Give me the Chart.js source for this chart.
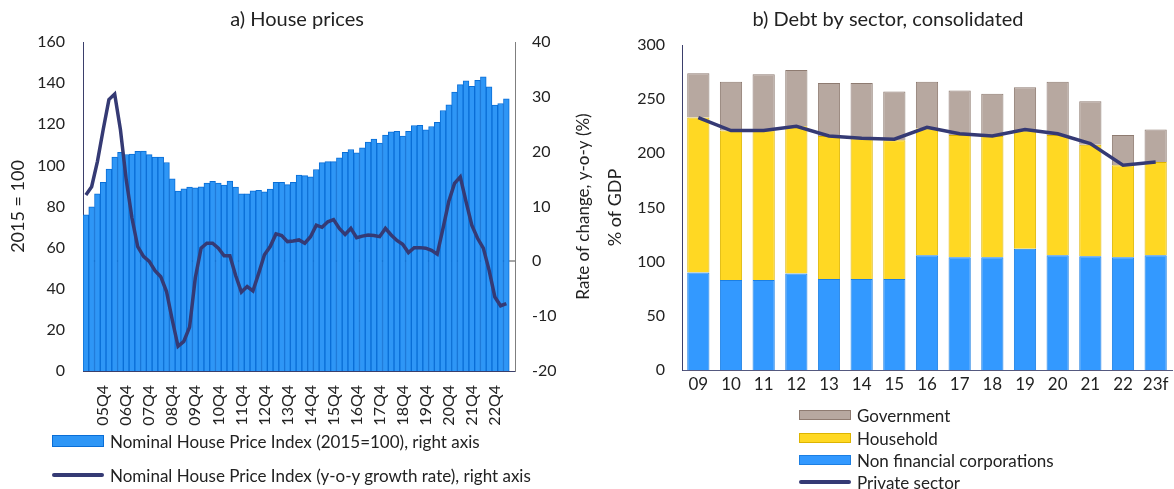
<!DOCTYPE html>
<html>
<head>
<meta charset="utf-8">
<script src="https://cdn.jsdelivr.net/npm/chart.js@4.4.1/dist/chart.umd.min.js"></script>
<style>
body{ margin:0; background:#fff; width:1174px; height:489px; overflow:hidden; position:relative; font-family:Lato, sans-serif; color:#222; }
#housePrices{ position:absolute; left:0; top:0; }
#debtSector{ position:absolute; left:594px; top:0; }
.leg{ position:absolute; height:20px; display:flex; align-items:center; font-size:17px; white-space:nowrap; }
.sw{ box-sizing:border-box; width:52px; margin-right:6px; }
</style>
</head>
<body>
<canvas id="housePrices" width="594" height="489"></canvas>
<canvas id="debtSector" width="580" height="489"></canvas>
<div id="legends"></div>
<script>
//panel a) data, quarterly 05Q1 - 23Q3 (last quarter empty)
var quarters = [
    "05Q1","05Q2","05Q3","05Q4","06Q1","06Q2","06Q3","06Q4","07Q1","07Q2","07Q3","07Q4",
    "08Q1","08Q2","08Q3","08Q4","09Q1","09Q2","09Q3","09Q4","10Q1","10Q2","10Q3","10Q4",
    "11Q1","11Q2","11Q3","11Q4","12Q1","12Q2","12Q3","12Q4","13Q1","13Q2","13Q3","13Q4",
    "14Q1","14Q2","14Q3","14Q4","15Q1","15Q2","15Q3","15Q4","16Q1","16Q2","16Q3","16Q4",
    "17Q1","17Q2","17Q3","17Q4","18Q1","18Q2","18Q3","18Q4","19Q1","19Q2","19Q3","19Q4",
    "20Q1","20Q2","20Q3","20Q4","21Q1","21Q2","21Q3","21Q4","22Q1","22Q2","22Q3","22Q4",
    "23Q1","23Q2","23Q3"
];
var priceIndex = [
    76.0, 79.9, 86.2, 91.7, 98.2, 104.0, 106.3, 105.3, 105.5, 106.8,
    106.9, 105.2, 104.0, 104.0, 101.4, 93.5, 87.5, 88.6, 89.4, 89.1,
    89.6, 91.4, 92.3, 91.4, 90.4, 92.4, 89.5, 86.2, 86.2, 87.6,
    87.9, 87.1, 88.5, 91.8, 91.8, 90.6, 91.8, 95.3, 95.0, 94.4,
    98.0, 101.3, 101.8, 101.8, 103.7, 106.4, 107.7, 106.1, 108.5, 111.3,
    112.8, 110.8, 114.7, 116.3, 116.6, 114.3, 116.6, 119.4, 119.5, 117.3,
    118.9, 120.9, 126.7, 129.5, 135.6, 139.3, 141.1, 138.5, 141.3, 143.1,
    138.2, 129.3, 130.1, 132.4
];
var priceGrowth = [
    12.1, 13.6, 18.2, 24.0, 29.5, 30.5, 24.0, 14.9, 7.9, 2.7,
    0.9, 0.0, -1.7, -2.8, -5.5, -10.7, -15.5, -14.6, -12.0, -3.0,
    2.4, 3.3, 3.3, 2.4, 1.0, 1.0, -2.6, -5.6, -4.6, -5.4,
    -2.2, 1.2, 2.7, 5.0, 4.7, 3.6, 3.7, 3.9, 3.3, 4.5,
    6.6, 6.2, 7.2, 7.6, 6.0, 4.9, 6.0, 4.3, 4.6, 4.8,
    4.7, 4.5, 6.0, 4.8, 3.8, 3.1, 1.6, 2.5, 2.5, 2.4,
    2.0, 1.3, 6.0, 10.9, 14.2, 15.4, 10.9, 6.6, 4.2, 2.4,
    -1.6, -6.5, -8.1, -7.7
];

//panel b) data, % of GDP
var years = ["09","10","11","12","13","14","15","16","17","18","19","20","21","22","23f"];
var nfcDebt = [90, 83, 83, 89, 84, 84, 84, 106, 104, 104, 112, 106, 105, 104, 106];
var householdDebt = [143, 138, 138, 136, 132, 130, 128, 117, 113, 112, 109, 111, 103, 85, 86];
var governmentDebt = [41, 45, 52, 52, 49, 51, 45, 43, 41, 39, 40, 49, 40, 28, 30];
var privateSector = [233, 221, 221, 225, 216, 214, 213, 224, 218, 216, 222, 218, 209, 189, 192];

var NAVY = "#353A74", TXT = "#222";
Chart.defaults.font.family = "Lato";
Chart.defaults.color = TXT;

//fix the axis box sizes (chart.js reserves tick padding twice)
function fixWidth( w ){ return function( s ){ s.width = w; }; }
function fixHeight( h ){ return function( s ){ s.height = h; s.paddingLeft = 0; s.paddingRight = 0; }; }

//draws the right axis title reading bottom to top
var rateTitle = {
    id: "rateTitle",
    afterDraw: function( chart ){
        var ctx = chart.ctx, a = chart.chartArea;
        ctx.save();
        ctx.translate( chart.width - 10, (a.top + a.bottom) / 2 );
        ctx.rotate( -Math.PI / 2 );
        ctx.font = "17px Lato";
        ctx.fillStyle = TXT;
        ctx.textAlign = "center";
        ctx.textBaseline = "middle";
        ctx.fillText( "Rate of change, y-o-y (%)", 0, 0 );
        ctx.restore();
    }
};

var priceBars = {
    type: "bar", label: "Nominal House Price Index (2015=100), right axis",
    data: priceIndex, yAxisID: "y", order: 1,
    backgroundColor: "#2E96F6", borderColor: "#0A6ED6", borderWidth: 1,
    barPercentage: 1, categoryPercentage: 1
};
var growthLine = {
    type: "line", label: "Nominal House Price Index (y-o-y growth rate), right axis",
    data: priceGrowth, yAxisID: "y1", order: 0,
    borderColor: NAVY, backgroundColor: NAVY, borderWidth: 3.5, pointRadius: 0, tension: 0
};

new Chart( document.getElementById("housePrices"), {
    data: { labels: quarters, datasets: [ growthLine, priceBars ] },
    options: {
        responsive: false, animation: false,
        layout: { padding: 0 },
        plugins: {
            legend: { display: false }, tooltip: { enabled: false },
            title: { display: true, text: "a) House prices", color: TXT, font: { size: 20, weight: "normal" }, padding: { top: 8, bottom: 10 } }
        },
        scales: {
            x: {
                offset: true,
                afterFit: fixHeight( 118 ),
                grid: { display: false, drawTicks: false },
                border: { color: "#3B3F6B" },
                ticks: {
                    autoSkip: false, minRotation: 90, maxRotation: 90, padding: 14, font: { size: 16 },
                    callback: function( v ){ var l = this.getLabelForValue( v ); return l.slice(-2) == "Q4" ? l : ""; }
                }
            },
            y: {
                min: 0, max: 160,
                afterFit: fixWidth( 83 ),
                ticks: { stepSize: 20, padding: 18, font: { size: 16 } },
                grid: { display: false, drawTicks: false },
                border: { color: "#3B3F6B" },
                title: { display: true, text: "2015 = 100", font: { size: 18 }, padding: { top: 7, bottom: 4 } }
            },
            y1: {
                position: "right", min: -20, max: 40,
                afterFit: fixWidth( 79 ),
                ticks: { stepSize: 10, padding: 17, font: { size: 16 } },
                grid: { drawTicks: false, lineWidth: 2, color: function( c ){ return c.tick && c.tick.value === 0 ? "#A6A6A6" : "rgba(0,0,0,0)"; } },
                border: { color: "#7F7F7F" }
            }
        }
    },
    plugins: [ rateTitle ]
});

var nfcBars = { type: "bar", label: "Non financial corporations", data: nfcDebt, stack: "debt", order: 1,
    backgroundColor: "#3399FF", borderColor: "#1C7FE3", borderWidth: 1 };
var householdBars = { type: "bar", label: "Household", data: householdDebt, stack: "debt", order: 1,
    backgroundColor: "#FFD823", borderColor: "#DDB400", borderWidth: 1 };
var governmentBars = { type: "bar", label: "Government", data: governmentDebt, stack: "debt", order: 1,
    backgroundColor: "#B7A8A0", borderColor: "#8E7B71", borderWidth: 1 };
var privateLine = { type: "line", label: "Private sector", data: privateSector, stack: "private", order: 0,
    borderColor: NAVY, backgroundColor: NAVY, borderWidth: 3.5, pointRadius: 0, tension: 0 };

new Chart( document.getElementById("debtSector"), {
    data: { labels: years, datasets: [ privateLine, nfcBars, householdBars, governmentBars ] },
    options: {
        responsive: false, animation: false,
        datasets: { bar: { categoryPercentage: 1, barPercentage: 0.68 } },
        layout: { padding: { left: 10, right: 2 } },
        plugins: {
            legend: { display: false }, tooltip: { enabled: false },
            title: { display: true, text: "b) Debt by sector, consolidated", color: TXT, font: { size: 20, weight: "normal" }, padding: { top: 8, bottom: 13 } }
        },
        scales: {
            x: {
                stacked: true, offset: true,
                afterFit: fixHeight( 119 ),
                grid: { display: false, drawTicks: false },
                border: { color: "#55597F" },
                ticks: { padding: 4, font: { size: 17 } }
            },
            y: {
                stacked: true, min: 0, max: 300,
                afterFit: fixWidth( 78 ),
                ticks: { stepSize: 50, padding: 17, font: { size: 16 } },
                grid: { display: false, drawTicks: false },
                border: { color: "#3B3F6B" },
                title: { display: true, text: "% of GDP", font: { size: 18 }, padding: { top: 0, bottom: 4 } }
            }
        }
    }
});

//html legends built from the datasets
function addLegend( left, tops, items, boxH ){
    var box = document.getElementById("legends");
    items.forEach( function( ds, i ){
        var row = document.createElement("div");
        row.className = "leg";
        row.style.left = left + "px";
        row.style.top = tops[i] + "px";
        var sw = document.createElement("div");
        sw.className = "sw";
        if( ds.type == "line" ){
            sw.style.height = "3.5px";
            sw.style.background = ds.borderColor;
            sw.style.borderRadius = "2px";
        } else {
            sw.style.height = boxH + "px";
            sw.style.background = ds.backgroundColor;
            sw.style.border = "1px solid " + ds.borderColor;
        }
        var tx = document.createElement("span");
        tx.textContent = ds.label;
        row.append( sw, tx );
        box.append( row );
    });
}
addLegend( 52, [431, 465], [ priceBars, growthLine ], 12 );
addLegend( 799, [405, 428, 450, 472], [ governmentBars, householdBars, nfcBars, privateLine ], 10 );
</script>
</body>
</html>
